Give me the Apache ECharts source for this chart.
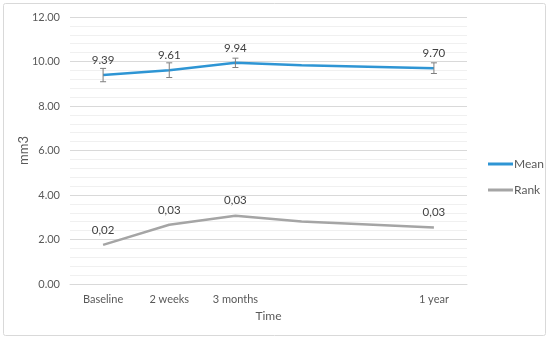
<!DOCTYPE html>
<html>
<head>
<meta charset="utf-8">
<script src="https://cdn.jsdelivr.net/npm/echarts@6/dist/echarts.min.js"></script>
<style>html,body{margin:0;padding:0;background:#fff}#c{width:550px;height:340px}</style>
</head>
<body>
<div id="c"></div>
<script>
var categories = ['Baseline', '2 weeks', '3 months', '', '', '1 year'];
var meanValues = [9.39, 9.61, 9.94, 9.83, null, 9.70];
var meanErrors = [0.30, 0.33, 0.21, null, null, 0.24];
var meanLabels = ['9.39', '9.61', '9.94', '', '', '9.70'];
var rankValues = [1.76, 2.66, 3.07, 2.81, null, 2.54];
var rankLabels = ['0,02', '0,03', '0,03', '', '', '0,03'];
var yTicks = [0, 2, 4, 6, 8, 10, 12];

var FONT = 'Lato';
var chart = echarts.init(document.getElementById('c'));

var errData = [];
for (var i = 0; i < categories.length; i++) {
  if (meanValues[i] != null && meanErrors[i] != null) {
    errData.push([i, meanValues[i] - meanErrors[i], meanValues[i] + meanErrors[i]]);
  }
}

chart.setOption({
  animation: false,
  textStyle: {fontFamily: FONT},
  graphic: [{
    type: 'rect', silent: true, z: -1,
    shape: {x: 3.5, y: 3.5, width: 542, height: 332, r: 2},
    style: {fill: 'none', stroke: '#d9d9d9', lineWidth: 1}
  }],
  grid: {left: 70, right: 83, top: 17, bottom: 56},
  legend: {
    orient: 'vertical', left: 483, top: 153, itemWidth: 25, itemHeight: 3, itemGap: 14,
    icon: 'rect',
    textStyle: {fontFamily: FONT, fontSize: 12, color: '#595959', padding: [0, 0, 0, -4]},
    data: ['Mean', 'Rank']
  },
  xAxis: {
    type: 'category', data: categories, boundaryGap: true,
    axisLine: {lineStyle: {color: '#d9d9d9'}},
    axisTick: {show: false},
    axisLabel: {color: '#595959', fontFamily: FONT, fontSize: 11, margin: 10, interval: 0},
    name: 'Time', nameLocation: 'middle', nameGap: 26, nameMoveOverlap: false,
    nameTextStyle: {color: '#595959', fontFamily: FONT, fontSize: 12}
  },
  yAxis: {
    type: 'value', min: yTicks[0], max: yTicks[yTicks.length - 1], interval: 2,
    axisLine: {show: false}, axisTick: {show: false},
    axisLabel: {color: '#595959', fontFamily: FONT, fontSize: 11, margin: 10,
      formatter: function (v) { return v.toFixed(2); }},
    splitLine: {lineStyle: {color: '#d9d9d9', width: 1}},
    minorTick: {show: false, splitNumber: 5},
    minorSplitLine: {show: true, lineStyle: {color: '#f0f0f0', width: 1}},
    name: 'mm3', nameLocation: 'middle', nameGap: 40, nameRotate: 90, nameMoveOverlap: false,
    nameTextStyle: {color: '#595959', fontFamily: FONT, fontSize: 13}
  },
  series: [
    {
      name: 'Mean', type: 'line', data: meanValues, connectNulls: true,
      symbol: 'circle', symbolSize: 0, showSymbol: true, color: '#2E95D4',
      itemStyle: {color: '#2E95D4'},
      lineStyle: {width: 2.5, color: '#2E95D4'},
      label: {show: true, position: 'top', distance: 9, color: '#404040', fontSize: 11.5, fontFamily: FONT,
        formatter: function (p) { return meanLabels[p.dataIndex]; }},
      z: 3
    },
    {
      name: 'Rank', type: 'line', data: rankValues, connectNulls: true,
      symbol: 'circle', symbolSize: 0, showSymbol: true, color: '#A5A5A5',
      itemStyle: {color: '#A5A5A5'},
      lineStyle: {width: 2.5, color: '#A5A5A5'},
      label: {show: true, position: 'top', distance: 9, color: '#404040', fontSize: 11.5, fontFamily: FONT,
        formatter: function (p) { return rankLabels[p.dataIndex]; }},
      z: 3
    },
    {
      name: 'err', type: 'custom', data: errData, z: 4,
      encode: {x: 0, y: [1, 2]},
      renderItem: function (params, api) {
        var lo = api.coord([api.value(0), api.value(1)]);
        var hi = api.coord([api.value(0), api.value(2)]);
        var w = 3;
        var st = {stroke: '#7f7f7f', lineWidth: 1};
        return {type: 'group', children: [
          {type: 'line', shape: {x1: lo[0], y1: lo[1], x2: hi[0], y2: hi[1]}, style: st},
          {type: 'line', shape: {x1: lo[0] - w, y1: lo[1], x2: lo[0] + w, y2: lo[1]}, style: st},
          {type: 'line', shape: {x1: hi[0] - w, y1: hi[1], x2: hi[0] + w, y2: hi[1]}, style: st}
        ]};
      }
    }
  ]
});
</script>
</body>
</html>
